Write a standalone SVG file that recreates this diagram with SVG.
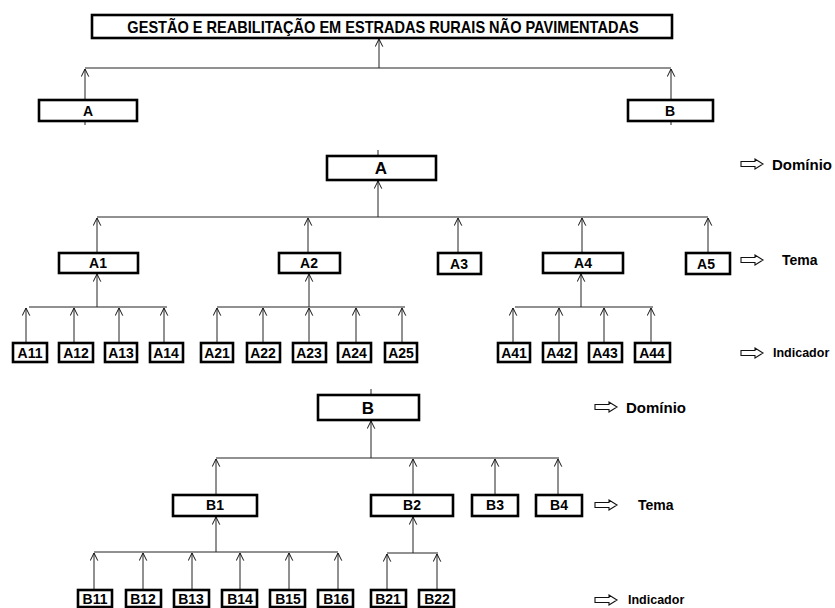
<svg xmlns="http://www.w3.org/2000/svg" width="835" height="608" viewBox="0 0 835 608">
<defs>
<marker id="ah" viewBox="0 0 10 10" refX="9.5" refY="5" markerWidth="9" markerHeight="9" markerUnits="userSpaceOnUse" orient="auto">
<path d="M1,0.8 L9.5,5 L1,9.2" fill="none" stroke="#111" stroke-width="1.1"/>
</marker>
<path id="bigarrow" d="M0,-2.5 H14 V-5 L22,0 L14,5 V2.5 H0 Z" fill="#fff" stroke="#111" stroke-width="1.1"/>
</defs>
<style>
.box{fill:#fff;stroke:#000;stroke-width:2.6}
.t{font-family:"Liberation Sans",Arial,sans-serif;font-weight:bold;fill:#000;text-anchor:middle;dominant-baseline:central}
.t14{font-size:14px}
.t17{font-size:17px}
.title{font-size:16px;transform-box:fill-box;transform-origin:center;transform:scaleX(0.91)}
.lg{font-family:"Liberation Sans",Arial,sans-serif;font-weight:bold;fill:#000;dominant-baseline:central}
.c line,.c path{stroke:#222;stroke-width:1;fill:none}
.c .a{marker-end:url(#ah)}
</style>
<rect width="835" height="608" fill="#fff"/>

<g id="connectors" class="c">
<line class="a" x1="379" y1="68" x2="379" y2="39"/>
<line x1="85" y1="68" x2="671" y2="68"/>
<line class="a" x1="85" y1="100" x2="85" y2="69"/>
<line class="a" x1="671" y1="100" x2="671" y2="69"/>
<line x1="85" y1="121" x2="85" y2="125"/>
<line x1="671" y1="121" x2="671" y2="125"/>
<line x1="378" y1="150" x2="378" y2="156"/>
<line class="a" x1="378" y1="217" x2="378" y2="181"/>
<line x1="97" y1="217" x2="708" y2="217"/>
<line class="a" x1="97" y1="253" x2="97" y2="218"/>
<line class="a" x1="308" y1="253" x2="308" y2="218"/>
<line class="a" x1="458" y1="253" x2="458" y2="218"/>
<line class="a" x1="582" y1="253" x2="582" y2="218"/>
<line class="a" x1="708" y1="253" x2="708" y2="218"/>
<line class="a" x1="97" y1="307" x2="97" y2="274"/>
<line x1="29" y1="307" x2="167" y2="307"/>
<line class="a" x1="26" y1="343" x2="26" y2="308"/>
<line class="a" x1="74" y1="343" x2="74" y2="308"/>
<line class="a" x1="119" y1="343" x2="119" y2="308"/>
<line class="a" x1="164" y1="343" x2="164" y2="308"/>
<line class="a" x1="309" y1="307" x2="309" y2="274"/>
<line x1="217" y1="307" x2="405" y2="307"/>
<line class="a" x1="217" y1="343" x2="217" y2="308"/>
<line class="a" x1="263" y1="343" x2="263" y2="308"/>
<line class="a" x1="309" y1="343" x2="309" y2="308"/>
<line class="a" x1="356" y1="343" x2="356" y2="308"/>
<line class="a" x1="402" y1="343" x2="402" y2="308"/>
<line class="a" x1="581" y1="307" x2="581" y2="274"/>
<line x1="515" y1="307" x2="653" y2="307"/>
<line class="a" x1="513" y1="343" x2="513" y2="308"/>
<line class="a" x1="559" y1="343" x2="559" y2="308"/>
<line class="a" x1="604" y1="343" x2="604" y2="308"/>
<line class="a" x1="651" y1="343" x2="651" y2="308"/>
<line x1="371" y1="389" x2="371" y2="395"/>
<line class="a" x1="371" y1="458" x2="371" y2="421"/>
<line x1="216" y1="458" x2="559" y2="458"/>
<line class="a" x1="216" y1="495" x2="216" y2="459"/>
<line class="a" x1="413" y1="495" x2="413" y2="459"/>
<line class="a" x1="495" y1="495" x2="495" y2="459"/>
<line class="a" x1="558" y1="495" x2="558" y2="459"/>
<line class="a" x1="216" y1="552" x2="216" y2="517"/>
<line x1="94" y1="552" x2="338" y2="552"/>
<line class="a" x1="94" y1="590" x2="94" y2="553"/>
<line class="a" x1="143" y1="590" x2="143" y2="553"/>
<line class="a" x1="192" y1="590" x2="192" y2="553"/>
<line class="a" x1="240" y1="590" x2="240" y2="553"/>
<line class="a" x1="289" y1="590" x2="289" y2="553"/>
<line class="a" x1="338" y1="590" x2="338" y2="553"/>
<line class="a" x1="413" y1="553" x2="413" y2="517"/>
<line x1="387" y1="553" x2="438" y2="553"/>
<line class="a" x1="387" y1="590" x2="387" y2="554"/>
<line class="a" x1="437" y1="590" x2="437" y2="554"/>
</g>

<g id="root"><rect class="box" x="92" y="15" width="580" height="23"/><text class="t title" x="383" y="27">GESTÃO E REABILITAÇÃO EM ESTRADAS RURAIS NÃO PAVIMENTADAS</text></g>
<g id="top-A"><rect class="box" x="39" y="100" width="98" height="21"/><text class="t t14" x="88" y="111">A</text></g>
<g id="top-B"><rect class="box" x="628" y="100" width="85" height="21"/><text class="t t14" x="670" y="111">B</text></g>

<g id="A"><rect class="box" x="327" y="156" width="109" height="24"/><text class="t t17" x="381" y="168">A</text></g>
<g id="A1"><rect class="box" x="59" y="253" width="79" height="20"/><text class="t t14" x="98" y="263">A1</text></g>
<g id="A2"><rect class="box" x="279" y="253" width="61" height="20"/><text class="t t14" x="309" y="263">A2</text></g>
<g id="A3"><rect class="box" x="438" y="253" width="43" height="21"/><text class="t t14" x="459" y="264">A3</text></g>
<g id="A4"><rect class="box" x="543" y="253" width="80" height="20"/><text class="t t14" x="583" y="263">A4</text></g>
<g id="A5"><rect class="box" x="686" y="253" width="44" height="21"/><text class="t t14" x="706" y="264">A5</text></g>

<g id="A11"><rect class="box" x="13" y="343" width="34" height="19"/><text class="t t14" x="30" y="353">A11</text></g>
<g id="A12"><rect class="box" x="59" y="343" width="34" height="19"/><text class="t t14" x="76" y="353">A12</text></g>
<g id="A13"><rect class="box" x="105" y="343" width="32" height="19"/><text class="t t14" x="121" y="353">A13</text></g>
<g id="A14"><rect class="box" x="150" y="343" width="33" height="19"/><text class="t t14" x="166" y="353">A14</text></g>
<g id="A21"><rect class="box" x="201" y="343" width="32" height="19"/><text class="t t14" x="217" y="353">A21</text></g>
<g id="A22"><rect class="box" x="247" y="343" width="33" height="19"/><text class="t t14" x="263" y="353">A22</text></g>
<g id="A23"><rect class="box" x="293" y="343" width="33" height="19"/><text class="t t14" x="309" y="353">A23</text></g>
<g id="A24"><rect class="box" x="338" y="343" width="33" height="19"/><text class="t t14" x="354" y="353">A24</text></g>
<g id="A25"><rect class="box" x="385" y="343" width="32" height="19"/><text class="t t14" x="401" y="353">A25</text></g>
<g id="A41"><rect class="box" x="498" y="343" width="32" height="19"/><text class="t t14" x="514" y="353">A41</text></g>
<g id="A42"><rect class="box" x="543" y="343" width="33" height="19"/><text class="t t14" x="559" y="353">A42</text></g>
<g id="A43"><rect class="box" x="589" y="343" width="33" height="19"/><text class="t t14" x="605" y="353">A43</text></g>
<g id="A44"><rect class="box" x="635" y="343" width="35" height="19"/><text class="t t14" x="652" y="353">A44</text></g>

<g id="B"><rect class="box" x="318" y="395" width="101" height="25"/><text class="t t17" x="368" y="408">B</text></g>
<g id="B1"><rect class="box" x="173" y="495" width="84" height="21"/><text class="t t14" x="215" y="505">B1</text></g>
<g id="B2"><rect class="box" x="371" y="495" width="82" height="21"/><text class="t t14" x="412" y="505">B2</text></g>
<g id="B3"><rect class="box" x="472" y="495" width="46" height="21"/><text class="t t14" x="495" y="505">B3</text></g>
<g id="B4"><rect class="box" x="536" y="495" width="46" height="21"/><text class="t t14" x="559" y="505">B4</text></g>

<g id="B11"><rect class="box" x="78" y="590" width="34" height="17"/><text class="t t14" x="95" y="599">B11</text></g>
<g id="B12"><rect class="box" x="126" y="590" width="35" height="17"/><text class="t t14" x="143" y="599">B12</text></g>
<g id="B13"><rect class="box" x="174" y="590" width="35" height="17"/><text class="t t14" x="191" y="599">B13</text></g>
<g id="B14"><rect class="box" x="222" y="590" width="35" height="17"/><text class="t t14" x="240" y="599">B14</text></g>
<g id="B15"><rect class="box" x="270" y="590" width="35" height="17"/><text class="t t14" x="288" y="599">B15</text></g>
<g id="B16"><rect class="box" x="318" y="590" width="35" height="17"/><text class="t t14" x="336" y="599">B16</text></g>
<g id="B21"><rect class="box" x="371" y="590" width="35" height="17"/><text class="t t14" x="388" y="599">B21</text></g>
<g id="B22"><rect class="box" x="419" y="590" width="35" height="17"/><text class="t t14" x="437" y="599">B22</text></g>

<g id="legend-A">
<use href="#bigarrow" x="741" y="164"/><text class="lg" x="772" y="164" font-size="15">Domínio</text>
<use href="#bigarrow" x="741" y="260"/><text class="lg" x="782" y="260" font-size="14">Tema</text>
<use href="#bigarrow" x="741" y="353"/><text class="lg" x="773" y="353" font-size="12.5">Indicador</text>
</g>
<g id="legend-B">
<use href="#bigarrow" x="595" y="407"/><text class="lg" x="626" y="407" font-size="15">Domínio</text>
<use href="#bigarrow" x="595" y="505"/><text class="lg" x="638" y="505" font-size="14">Tema</text>
<use href="#bigarrow" x="595" y="600"/><text class="lg" x="628" y="600" font-size="12.5">Indicador</text>
</g>
</svg>
